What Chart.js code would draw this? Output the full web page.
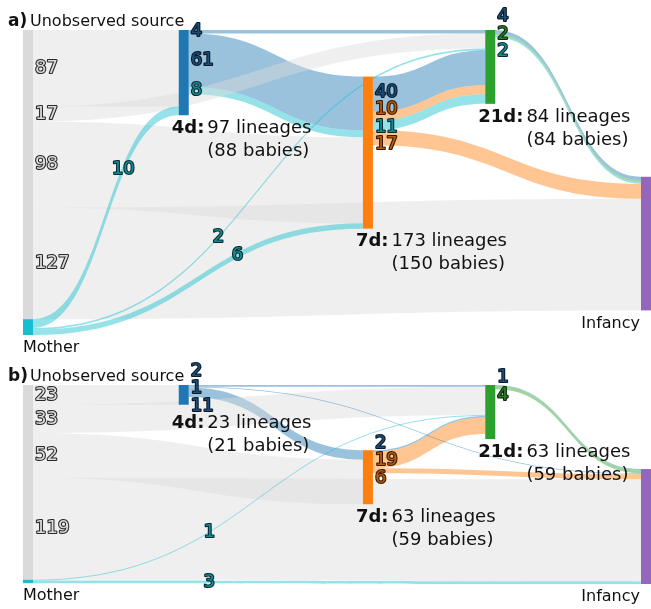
<!DOCTYPE html>
<html>
<head>
<meta charset="utf-8">
<script src="https://cdn.jsdelivr.net/npm/chart.js@4.4.0/dist/chart.umd.min.js"></script>
<style>
body { margin: 0; background: #fff; }
.panel { position: absolute; left: 0; width: 651px; }
</style>
</head>
<body>
<div class="panel" style="top:0;height:355px"><canvas id="chartA"></canvas></div>
<div class="panel" style="top:355px;height:254px"><canvas id="chartB"></canvas></div>
<script>
// node keys and where their column sits on the x scale (0 = birth, 1 = infancy)
const nodeKeys = ['U', 'M', '4d', '7d', '21d', 'Inf'];
const nodeColumn = [0, 0, 0.252, 0.55, 0.748, 1];

// ---- panel a ----
const aNodeTop = [0, 329, 0, 53, 0, 167];
const aLineages = [0, 0, 97, 173, 84, 0];
const aBabies = [0, 0, 88, 150, 84, 0];
const aFrom   = ['4d', 'U', 'U',   'M',  'M',   '4d', '4d', '7d',  '7d',  '7d',  '21d', '21d', '21d', '7d',  'U',  'M',  'U'];
const aTo     = ['21d','4d','21d', '4d', '21d', '7d', '7d', '21d', '21d', '21d', 'Inf', 'Inf', 'Inf', 'Inf', '7d', '7d', 'Inf'];
const aValue  = [4,    87,  17,    10,   2,     61,   8,    40,    10,    11,    4,     2,     2,     17,    98,   6,    127];
const aOrigin = ['4d', 'U', 'U',   'M',  'M',   '4d', 'M',  '4d',  '7d',  'M',   '4d',  '21d', 'M',   '7d',  'U',  'M',  'U'];
const aLabelAt = [null, null, null, 0.62, 0.41, null, null, null, null, null, null, null, null, null, null, 0.62, null];

// ---- panel b ----
const bNodeTop = [0, 227, 0, 76, 0, 98];
const bLineages = [0, 0, 23, 63, 63, 0];
const bBabies = [0, 0, 21, 59, 59, 0];
const bFrom   = ['U',  '4d',  'U',   'M',   '7d',  '7d',  '21d', '21d', '4d',  '4d', '7d',  'U',  'U',   'M'];
const bTo     = ['4d', '21d', '21d', '21d', '21d', '21d', 'Inf', 'Inf', 'Inf', '7d', 'Inf', '7d', 'Inf', 'Inf'];
const bValue  = [23,   2,     33,    1,     2,     19,    1,     4,     1,     11,   6,     52,   119,   3];
const bOrigin = ['U',  '4d',  'U',   'M',   '4d',  '7d',  '4d',  '21d', '4d',  '4d', '7d',  'U',  'U',   'M'];
const bLabelAt = [null, null, null, 0.39, null, null, null, null, null, null, null, null, null, 0.29];

const nodeColour = { U: '#dadada', M: '#17becf', '4d': '#1f77b4', '7d': '#ff7f0e', '21d': '#2ca02c', Inf: '#9467bd' };
const flowColour = {
  U: 'rgba(220,220,220,0.45)', M: 'rgba(23,190,207,0.45)', '4d': 'rgba(31,119,180,0.45)',
  '7d': 'rgba(255,127,14,0.45)', '21d': 'rgba(44,160,44,0.45)'
};
const textFill = { U: '#dcdcdc', M: '#138c98', '4d': '#1d4f78', '7d': '#b85c0a', '21d': '#2a7a2a' };
const textStroke = { U: '#2a2a2a', M: '#08282c', '4d': '#0a1828', '7d': '#3a1800', '21d': '#0a280a' };

const NODE_W = 10;
const FONT = '"DejaVu Sans", sans-serif';

function layout(p) {
  const node = {};
  nodeKeys.forEach((k, i) => {
    node[k] = { key: k, col: nodeColumn[i], top: p.top[i], outSum: 0, inSum: 0, lineages: p.lineages[i], babies: p.babies[i] };
  });
  p.from.forEach((f, i) => { node[f].outSum += p.value[i]; node[p.to[i]].inSum += p.value[i]; });
  nodeKeys.forEach(k => {
    const n = node[k];
    n.h = Math.max(n.outSum, n.inSum, n.lineages);
    n.outCur = n.top; n.inCur = n.top;
  });
  const links = p.from.map((f, i) => {
    const s = node[f], t = node[p.to[i]], v = p.value[i];
    const l = { i, s, t, v, sy: s.outCur, ty: t.inCur, origin: p.origin[i], labelAt: p.labelAt[i] };
    s.outCur += v; t.inCur += v;
    return l;
  });
  return { node, links };
}

function spread(desired, gap) {
  let groups = desired.map((d, i) => ({ idx: [i], sum: d, n: 1 }));
  let changed = true;
  while (changed) {
    changed = false;
    for (let k = 0; k < groups.length - 1; k++) {
      const a = groups[k], b = groups[k + 1];
      const aEnd = a.sum / a.n + (a.n - 1) / 2 * gap;
      const bStart = b.sum / b.n - (b.n - 1) / 2 * gap;
      if (bStart - aEnd < gap) {
        a.idx = a.idx.concat(b.idx); a.sum += b.sum; a.n += b.n;
        groups.splice(k + 1, 1); changed = true; break;
      }
    }
  }
  const out = [];
  groups.forEach(g => g.idx.forEach((i, j) => { out[i] = g.sum / g.n + (j - (g.n - 1) / 2) * gap; }));
  return out;
}

function outlinedText(ctx, txt, x, y, origin) {
  ctx.lineWidth = 2.2;
  ctx.lineJoin = 'round';
  ctx.strokeStyle = textStroke[origin];
  ctx.strokeText(txt, x, y);
  ctx.fillStyle = textFill[origin];
  ctx.fillText(txt, x, y);
}

function sankeyPlugin(p) {
  return {
    id: 'sankey',
    afterDraw(chart) {
      const ctx = chart.ctx, xs = chart.scales.x, ys = chart.scales.y;
      const { node, links } = layout(p);
      const X = n => xs.getPixelForValue(n.col);
      const Y = v => ys.getPixelForValue(v);

      // flows: grouped by the column they run into, flows leaving the mother on top
      const order = links.slice().sort((a, b) =>
        ((a.s.key === 'M') - (b.s.key === 'M')) || (a.t.col - b.t.col) || (a.i - b.i));
      order.forEach(l => {
        const x0 = X(l.s) + NODE_W, x1 = X(l.t), xm = (x0 + x1) / 2;
        const a0 = Y(l.sy), a1 = Y(l.sy + l.v), b0 = Y(l.ty), b1 = Y(l.ty + l.v);
        ctx.beginPath();
        ctx.moveTo(x0, a0);
        ctx.bezierCurveTo(xm, a0, xm, b0, x1, b0);
        ctx.lineTo(x1, b1);
        ctx.bezierCurveTo(xm, b1, xm, a1, x0, a1);
        ctx.closePath();
        ctx.fillStyle = flowColour[l.origin];
        ctx.fill();
      });

      // nodes
      nodeKeys.forEach(k => {
        const n = node[k];
        ctx.fillStyle = nodeColour[k];
        ctx.fillRect(X(n), Y(n.top), NODE_W, Y(n.top + n.h) - Y(n.top));
      });

      ctx.textBaseline = 'middle';
      ctx.font = '18px ' + FONT;

      // value labels beside each node's outgoing flows
      const lastLabel = {};
      nodeKeys.forEach(k => {
        if (k === 'M') return;
        const outs = links.filter(l => l.s === node[k] && l.labelAt === null);
        if (!outs.length) return;
        const pos = spread(outs.map(l => Y(l.sy + l.v / 2)), 17.5);
        ctx.textAlign = 'left';
        outs.forEach((l, j) => outlinedText(ctx, String(l.v), X(node[k]) + NODE_W + 2, pos[j], l.origin));
        lastLabel[k] = Math.max(...pos);
      });

      // labels placed along the mother flows
      links.filter(l => l.labelAt !== null).forEach(l => {
        const x0 = X(l.s) + NODE_W, x1 = X(l.t);
        const f = l.labelAt;
        let lo = 0, hi = 1;
        for (let it = 0; it < 40; it++) {
          const t = (lo + hi) / 2;
          const fx = 1.5 * t * (1 - t) + t * t * t;
          if (fx < f) lo = t; else hi = t;
        }
        const t = (lo + hi) / 2;
        const yc0 = Y(l.sy + l.v / 2), yc1 = Y(l.ty + l.v / 2);
        const y = yc0 + (yc1 - yc0) * (3 * t * t - 2 * t * t * t);
        ctx.textAlign = 'center';
        outlinedText(ctx, String(l.v), x0 + (x1 - x0) * f, y, l.origin);
      });

      // time point captions
      ['4d', '7d', '21d'].forEach(k => {
        const n = node[k];
        const bottom = Y(n.top + n.h);
        const y = Math.max(bottom + 13, (lastLabel[k] || 0) + 17);
        const x = X(n) - 7;
        ctx.textAlign = 'left';
        ctx.fillStyle = '#111';
        ctx.font = 'bold 18px ' + FONT;
        const pre = k + ':';
        ctx.fillText(pre, x, y);
        const x2 = x + ctx.measureText(pre).width + 3;
        ctx.font = '18px ' + FONT;
        ctx.fillText(n.lineages + ' lineages', x2, y);
        ctx.fillText('(' + n.babies + ' babies)', x2, y + 23);
      });

      // source / sink names
      ctx.font = '16px ' + FONT;
      ctx.fillStyle = '#111';
      ctx.textBaseline = 'alphabetic';
      ctx.textAlign = 'left';
      ctx.fillText('Unobserved source', X(node.U) + 7, Y(node.U.top) - 4);
      ctx.font = 'bold 17px ' + FONT;
      ctx.fillText(p.tag, 8, Y(node.U.top) - 4);
      ctx.font = '16px ' + FONT;
      ctx.textBaseline = 'middle';
      ctx.fillText('Mother', X(node.M), Y(node.M.top + node.M.h) + 13);
      ctx.textAlign = 'right';
      ctx.fillText('Infancy', X(node.Inf) - 1, Y(node.Inf.top + node.Inf.h) + 13);
    }
  };
}

function makeChart(id, p) {
  let yMax = 0;
  const { node } = layout(p);
  nodeKeys.forEach(k => { yMax = Math.max(yMax, node[k].top + node[k].h); });
  return new Chart(document.getElementById(id), {
    type: 'scatter',
    data: { datasets: [{ data: [] }] },
    options: {
      responsive: true,
      maintainAspectRatio: false,
      animation: false,
      layout: { padding: { left: 23, right: NODE_W, top: 30, bottom: p.padBottom } },
      plugins: { legend: { display: false }, tooltip: { enabled: false } },
      scales: {
        x: { type: 'linear', min: 0, max: 1, display: false },
        y: { type: 'linear', min: 0, max: yMax, reverse: true, display: false }
      }
    },
    plugins: [sankeyPlugin(p)]
  });
}

makeChart('chartA', { tag: 'a)', top: aNodeTop, lineages: aLineages, babies: aBabies, from: aFrom, to: aTo,
  value: aValue, origin: aOrigin, labelAt: aLabelAt, padBottom: 20 });
makeChart('chartB', { tag: 'b)', top: bNodeTop, lineages: bLineages, babies: bBabies, from: bFrom, to: bTo,
  value: bValue, origin: bOrigin, labelAt: bLabelAt, padBottom: 25 });
</script>
</body>
</html>
